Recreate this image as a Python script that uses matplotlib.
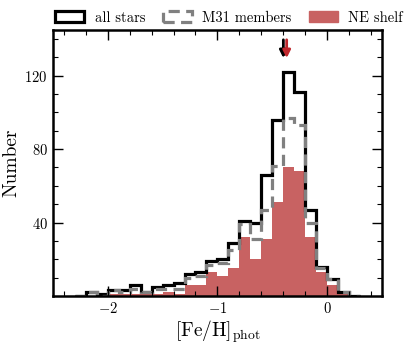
import numpy as np
import matplotlib
matplotlib.use('Agg')
import matplotlib.pyplot as plt
from matplotlib.patches import Patch

plt.rcParams['font.family'] = 'serif'
plt.rcParams['font.serif'] = ['cmr10']
plt.rcParams['mathtext.fontset'] = 'cm'
plt.rcParams['axes.formatter.use_mathtext'] = True

########################
###  Histogram data  ###
########################
bin_edges = np.round(np.arange(-2.3, 0.31, 0.1), 1)

all_stars = [0, 2, 1, 3, 3, 6, 2, 5, 6, 7, 12, 13, 19, 20, 29, 41, 40, 66, 96, 122, 111, 47, 16, 9, 2, 0]
m31_members = [0, 2, 0, 3, 2, 4, 2, 4, 4, 4, 10, 11, 17, 18, 25, 39, 31, 47, 71, 97, 93, 40, 15, 9, 2, 0]
ne_shelf = [0, 0, 0, 1, 1, 1, 1, 1, 2, 1, 6, 6, 13, 11, 15, 32, 20, 31, 51, 70, 68, 32, 13, 6, 1, 0]

# median markers
med_all = -0.40
med_shelf = -0.37

red = '#c86262'
gray = '#808080'

fig = plt.figure(figsize=(4.15, 3.45), dpi=100)
ax = fig.add_axes([0.127, 0.142, 0.794, 0.772])

ax.stairs(ne_shelf, bin_edges, fill=True, color=red, lw=0)
ax.stairs(all_stars, bin_edges, color='black', lw=2.3)
ax.stairs(m31_members, bin_edges, color=gray, lw=2.3, ls=(0, (3.5, 2.0)))

ax.annotate('', xy=(med_all, 128), xytext=(med_all, 141),
            arrowprops=dict(arrowstyle='-|>', color='black', lw=2.0, mutation_scale=11))
ax.annotate('', xy=(med_shelf, 128), xytext=(med_shelf, 141),
            arrowprops=dict(arrowstyle='-|>', color='#c0282d', lw=2.0, mutation_scale=11))

ax.set_xlim(-2.5, 0.5)
ax.set_ylim(0, 145)
ax.set_xticks([-2, -1, 0])
ax.set_xticks(np.arange(-2.4, 0.5, 0.2), minor=True)
ax.set_yticks([40, 80, 120])
ax.set_yticks(np.arange(10, 145, 10), minor=True)
ax.tick_params(which='both', direction='in', top=True, right=True, labelsize=10.5)
ax.tick_params(which='major', length=7, width=1.0)
ax.tick_params(which='minor', length=3.5, width=0.8)
for s in ax.spines.values():
    s.set_linewidth(1.8)

ax.set_xlabel(r'$[\mathrm{Fe/H}]_{\mathrm{phot}}$', fontsize=14, labelpad=2)
ax.set_ylabel('Number', fontsize=14, labelpad=3)

handles = [Patch(facecolor='none', edgecolor='black', lw=2.3),
           Patch(facecolor='none', edgecolor=gray, lw=2.3, ls=(0, (3.5, 2.0))),
           Patch(facecolor=red, edgecolor=red)]
fig.legend(handles, ['all stars', 'M31 members', 'NE shelf'], loc='center',
           bbox_to_anchor=(0.552, 0.948), ncol=3, frameon=False, fontsize=10.5,
           handlelength=2.0, handleheight=0.8, columnspacing=1.2, handletextpad=0.7)

fig.savefig('out.png', dpi=100)
